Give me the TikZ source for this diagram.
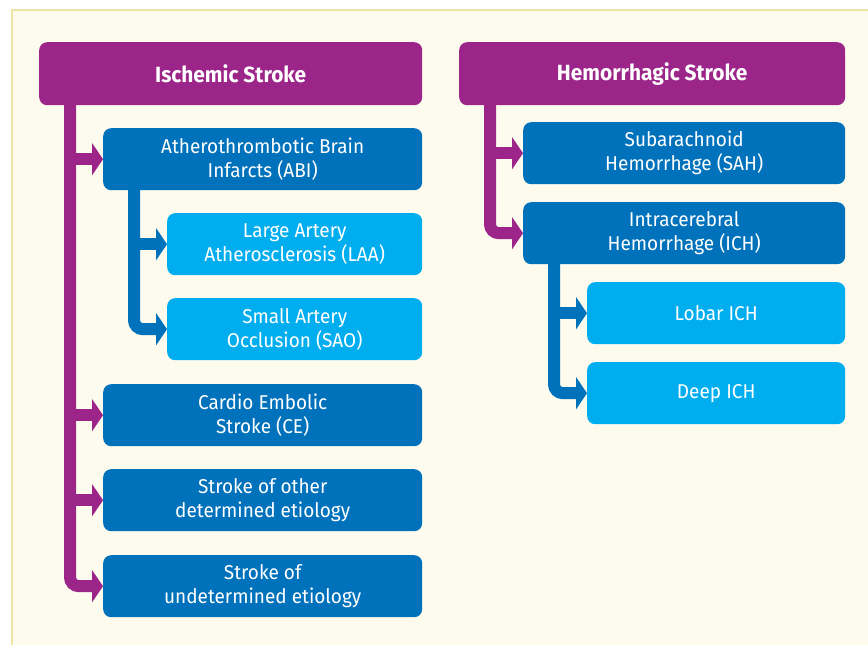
\documentclass[tikz,border=0pt]{standalone}
\usepackage{fontspec}
\setmainfont{Fira Sans}[FakeStretch=0.95]
\usetikzlibrary{arrows.meta}
\definecolor{PanelClr}{RGB}{253,251,238}
\definecolor{PanelLine}{RGB}{240,228,165}
\definecolor{HeadClr}{RGB}{155,37,137}
\definecolor{MainClr}{RGB}{0,114,188}
\definecolor{SubClr}{RGB}{0,174,239}

\tikzset{
  box/.style={anchor=north west,rounded corners=8pt,text=white,align=center,
    inner sep=0pt,font=\fontsize{20}{24}\selectfont},
  headbox/.style={box,fill=HeadClr,minimum height=63pt,
    font=\fontsize{22}{24}\selectfont\bfseries},
  mainbox/.style={box,fill=MainClr,minimum width=319pt,minimum height=62pt},
  subbox/.style={box,fill=SubClr,minimum height=62pt},
  link/.style={line width=12pt,rounded corners=9pt,
    -{Triangle[length=11pt,width=32pt]}},
}

\begin{document}
\begin{tikzpicture}[x=1pt,y=-1pt]
\useasboundingbox (0,0) rectangle (868,645);
\fill[white] (0,0) rectangle (868,645);
\fill[PanelClr] (12,10) rectangle (868,645);
\draw[PanelLine,line width=1.5pt] (12,645) -- (12,10) -- (868,10);

% ischemic side
\node[headbox,minimum width=383pt] (isc) at (39,42) {Ischemic Stroke};
\node[mainbox] (abi) at (103,128) {Atherothrombotic Brain\\Infarcts (ABI)};
\node[subbox,minimum width=255pt] (laa) at (167,213) {Large Artery\\Atherosclerosis (LAA)};
\node[subbox,minimum width=255pt] (sao) at (167,298) {Small Artery\\Occlusion (SAO)};
\node[mainbox] (ce) at (103,384) {Cardio Embolic\\Stroke (CE)};
\node[mainbox] (oth) at (103,469) {Stroke of other\\determined etiology};
\node[mainbox] (und) at (103,555) {Stroke of\\undetermined etiology};

\coordinate (iscA) at (70,100);
\coordinate (abiA) at (134,185);
\draw[link,HeadClr] (iscA) |- (und.west);
\foreach \t in {abi,ce,oth}
  \draw[link,HeadClr,rounded corners=0pt] (iscA |- \t.west) -- (\t.west);
\draw[link,MainClr] (abiA) |- (sao.west);
\draw[link,MainClr,rounded corners=0pt] (abiA |- laa.west) -- (laa.west);

% hemorrhagic side
\node[headbox,minimum width=386pt] (hem) at (459,42) {Hemorrhagic Stroke};
\node[mainbox,minimum width=322pt] (sah) at (523,122) {Subarachnoid\\Hemorrhage (SAH)};
\node[mainbox,minimum width=322pt] (ich) at (523,202) {Intracerebral\\Hemorrhage (ICH)};
\node[subbox,minimum width=258pt] (lob) at (587,282) {Lobar ICH};
\node[subbox,minimum width=258pt] (dee) at (587,362) {Deep ICH};

\coordinate (hemA) at (490,100);
\coordinate (ichA) at (554,260);
\draw[link,HeadClr] (hemA) |- (ich.west);
\draw[link,HeadClr,rounded corners=0pt] (hemA |- sah.west) -- (sah.west);
\draw[link,MainClr] (ichA) |- (dee.west);
\draw[link,MainClr,rounded corners=0pt] (ichA |- lob.west) -- (lob.west);

\end{tikzpicture}
\end{document}
